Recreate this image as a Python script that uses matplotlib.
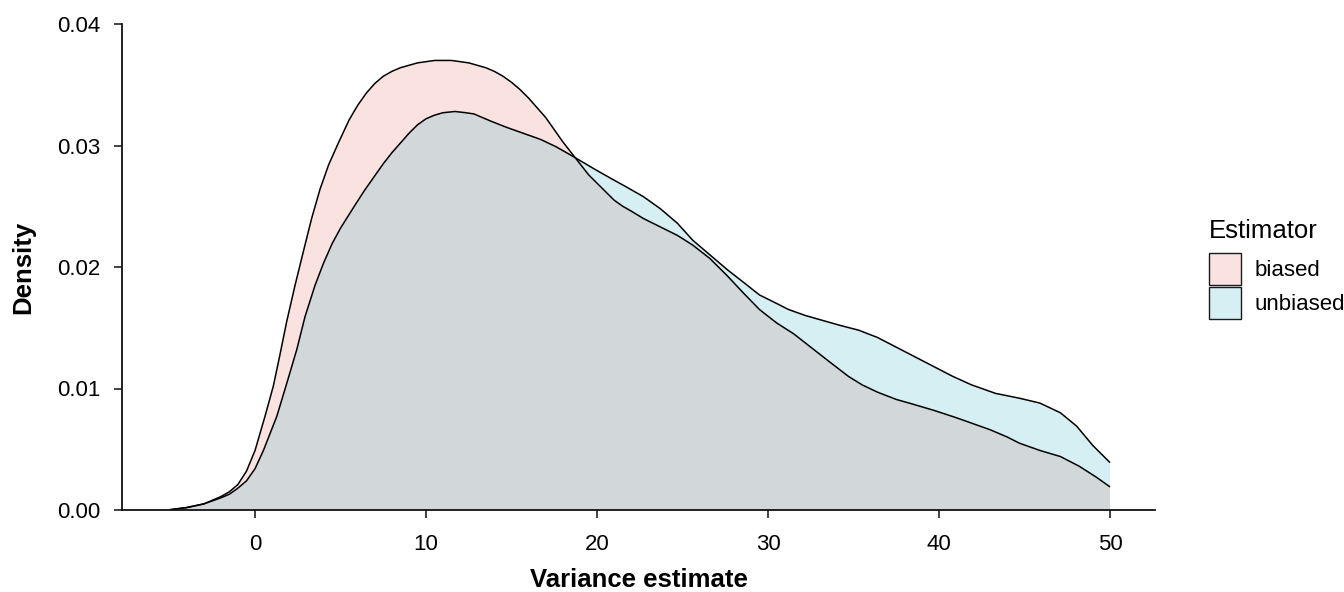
import matplotlib
matplotlib.use("Agg")
import matplotlib.pyplot as plt
from matplotlib.patches import Patch
from matplotlib.colors import to_rgba

plt.rcParams['font.family'] = ['Liberation Sans', 'DejaVu Sans']

# ---- data ----
biased_x = [-5.0, -4.0, -3.0, -2.0, -1.5, -1.0, -0.5, 0.0, 0.58, 1.07, 1.46, 1.85, 2.34,
            2.83, 3.31, 3.8, 4.3, 4.87, 5.5, 6.0, 6.5, 7.0, 7.5, 8.0, 8.5, 9.0, 9.5,
            10.0, 10.5, 11.0, 11.5, 12.0, 12.5, 13.0, 13.5, 14.0, 14.5, 15.0, 15.5,
            16.0, 16.5, 17.0, 17.5, 18.0, 18.5, 19.0, 19.5, 20.0, 20.5, 21.0, 21.5,
            22.0, 22.7, 23.7, 24.7, 25.6, 26.6, 27.6, 28.6, 29.5, 30.5, 31.5, 32.5,
            33.5, 34.7, 35.5, 36.4, 37.5, 38.5, 39.7, 41.0, 42.0, 43.0, 44.0, 44.7,
            45.9, 47.1, 48.2, 49.2, 50.0]
biased_y = [0.00002, 0.0002, 0.0005, 0.0011, 0.0015, 0.0021, 0.0032, 0.0049, 0.0077,
            0.0102, 0.0128, 0.0155, 0.0185, 0.0213, 0.0240, 0.0264, 0.0284, 0.0302,
            0.0321, 0.0333, 0.0343, 0.0351, 0.0357, 0.0361, 0.0364, 0.0366, 0.0368,
            0.0369, 0.0370, 0.0370, 0.0370, 0.0369, 0.0368, 0.0366, 0.0364, 0.0361,
            0.0357, 0.0352, 0.0346, 0.0339, 0.0331, 0.0323, 0.0313, 0.0303, 0.0294,
            0.0285, 0.0276, 0.0269, 0.0262, 0.0255, 0.0250, 0.0246, 0.0240, 0.0233,
            0.0226, 0.0218, 0.0207, 0.0193, 0.0178, 0.0165, 0.0154, 0.0145, 0.0134,
            0.0123, 0.0110, 0.0103, 0.0097, 0.0091, 0.0087, 0.0082, 0.0076, 0.0071,
            0.0066, 0.0060, 0.0055, 0.0049, 0.0044, 0.0036, 0.0027, 0.0019]

unbiased_x = [-5.0, -4.0, -3.0, -2.0, -1.5, -1.0, -0.5, 0.0, 0.49, 1.27, 1.85, 2.44,
              2.92, 3.51, 4.0, 4.5, 5.0, 5.4, 5.85, 6.4, 7.0, 7.5, 8.0, 8.5, 9.0, 9.5,
              10.0, 10.5, 11.0, 11.7, 12.3, 12.8, 13.3, 13.8, 14.7, 15.7, 16.7, 17.6,
              18.6, 19.8, 20.8, 21.7, 22.7, 23.7, 24.7, 25.6, 26.6, 27.6, 28.6, 29.5,
              30.5, 31.2, 32.2, 33.2, 34.2, 35.3, 36.4, 37.5, 38.6, 39.7, 40.8, 41.9,
              43.3, 44.7, 45.9, 47.1, 48.05, 49.0, 50.0]
unbiased_y = [0.00002, 0.0002, 0.0005, 0.0010, 0.0013, 0.0018, 0.0024, 0.0034, 0.0049,
              0.0077, 0.0104, 0.0132, 0.0159, 0.0185, 0.0203, 0.0219, 0.0232, 0.0241,
              0.0251, 0.0263, 0.0275, 0.0285, 0.0294, 0.0302, 0.0310, 0.0317, 0.0322,
              0.0325, 0.0327, 0.0328, 0.0327, 0.0326, 0.0323, 0.0320, 0.0315, 0.0310,
              0.0305, 0.0299, 0.0291, 0.0281, 0.0273, 0.0266, 0.0258, 0.0248, 0.0236,
              0.0222, 0.0210, 0.0198, 0.0187, 0.0177, 0.0170, 0.0165, 0.0160, 0.0156,
              0.0152, 0.0148, 0.0142, 0.0134, 0.0126, 0.0118, 0.0110, 0.0103, 0.0096,
              0.0092, 0.0088, 0.0080, 0.0069, 0.0053, 0.0039]

series_names = ["biased", "unbiased"]
series_colors = ["#E8706A", "#32AFBE"]
x_ticks = [0, 10, 20, 30, 40, 50]
y_ticks = [0.00, 0.01, 0.02, 0.03, 0.04]
y_tick_labels = ["0.00", "0.01", "0.02", "0.03", "0.04"]

# ---- figure ----
W, H = 1344, 592
fig = plt.figure(figsize=(W / 100, H / 100), dpi=100)
ax = fig.add_axes([122 / W, 1 - 510 / H, (1155 - 122) / W, (510 - 24) / H])

alpha = 0.2
for xs, ys, col in zip([biased_x, unbiased_x], [biased_y, unbiased_y], series_colors):
    ax.fill_between(xs, 0, ys, facecolor=col, alpha=alpha, linewidth=0)
    ax.plot(xs, ys, color="black", linewidth=1.1, solid_joinstyle="round",
            solid_capstyle="butt")

ax.set_xlim(-7.78, 52.63)
ax.set_ylim(0, 0.04)
ax.set_xticks(x_ticks)
ax.set_yticks(y_ticks)
ax.set_yticklabels(y_tick_labels)

for s in ["top", "right"]:
    ax.spines[s].set_visible(False)
for s in ["left", "bottom"]:
    ax.spines[s].set_linewidth(1.3)
    ax.spines[s].set_color("#111111")
ax.tick_params(axis="both", direction="out", length=5.8, width=1.3, color="#333333",
               labelsize=16, labelcolor="black")
ax.tick_params(axis="x", pad=11.5)
ax.tick_params(axis="y", pad=9.5)

ax.set_xlabel("Variance estimate", fontsize=18.5, fontweight="bold", labelpad=9)
ax.set_ylabel("Density", fontsize=18.5, fontweight="bold", labelpad=16)

# ---- legend ----
fig.text(1209 / W, 1 - 238 / H, "Estimator", fontsize=18.5, ha="left", va="baseline")
handles = [Patch(facecolor=to_rgba(c, alpha), edgecolor="#1a1a1a", linewidth=1.0)
           for c in series_colors]
fig.legend(handles, series_names, loc="upper left",
           bbox_to_anchor=(1209 / W, 1 - 253 / H), frameon=False,
           fontsize=16, handlelength=1.44, handleheight=1.84, labelspacing=0.09,
           handletextpad=0.63, borderpad=0, borderaxespad=0)

fig.savefig("out.png", dpi=100)
